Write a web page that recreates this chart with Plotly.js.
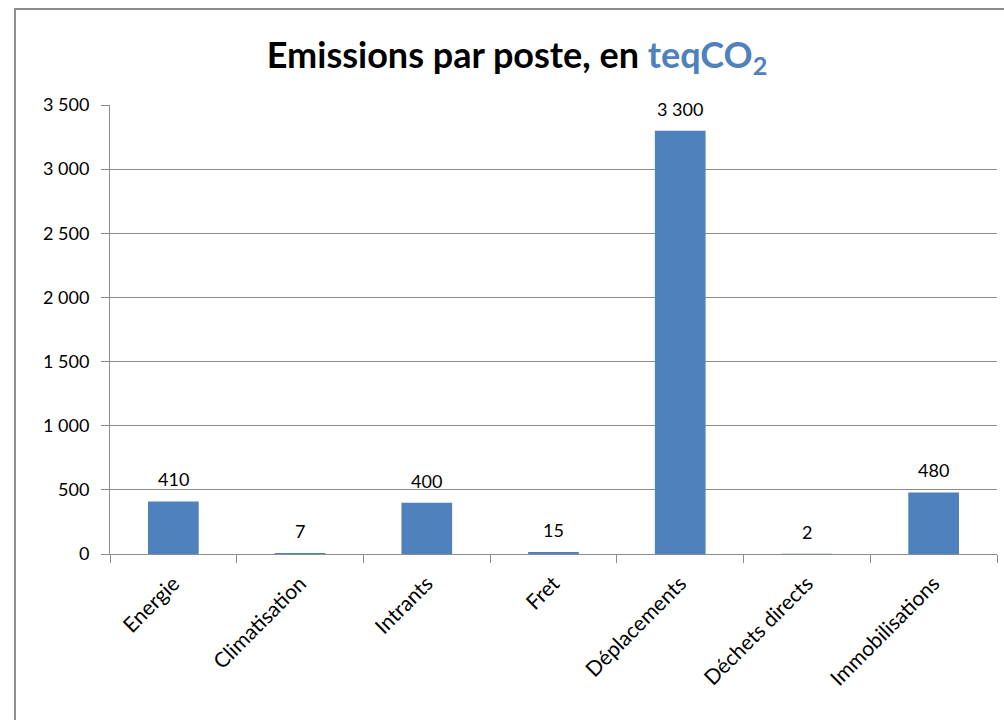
<!DOCTYPE html>
<html>
<head>
<meta charset="utf-8">
<script src="https://cdn.plot.ly/plotly-3.0.1.min.js"></script>
<style>
  html, body { margin: 0; padding: 0; background: #fff; overflow: hidden; }
  #wrap { position: relative; width: 1004px; height: 720px; }
  #chart { position: absolute; left: 0; top: 0; width: 1004px; height: 720px; }
  #frame { position: absolute; left: 14px; top: 8px; width: 1000px; height: 720px;
           border-left: 2px solid #8c8c8c; border-top: 2px solid #8c8c8c; pointer-events: none; }
</style>
</head>
<body>
<div id="wrap">
  <div id="chart"></div>
  <div id="frame"></div>
</div>
<script>
const categories = ["Energie", "Climatisation", "Intrants", "Fret", "Déplacements", "Déchets directs", "Immobilisations"];
const values = [410, 7, 400, 15, 3300, 2, 480];
const yTicks = [0, 500, 1000, 1500, 2000, 2500, 3000, 3500];

function fmt(v) {
  return String(v).replace(/\B(?=(\d{3})+(?!\d))/g, " ");
}

const FONT = "Lato, 'Open Sans', sans-serif";
const BLUE = "#4F81BD";

const trace = {
  type: "bar",
  x: categories,
  y: values,
  marker: { color: BLUE },
  hoverinfo: "skip"
};

const annotations = categories.map((c, i) => ({
  x: c, y: values[i], xref: "x", yref: "y",
  text: fmt(values[i]),
  showarrow: false,
  yanchor: "middle",
  yshift: 22,
  font: { family: FONT, size: 18, color: "#000" }
}));

const layout = {
  width: 1004, height: 720,
  margin: { l: 110, r: 7, t: 105, b: 166 },
  paper_bgcolor: "#fff", plot_bgcolor: "#fff",
  separators: ", ",
  showlegend: false,
  bargap: 0.6,
  title: {
    text: "Emissions par poste, en <span style=\"color:#4F81BD\">teqCO<sub>2</sub></span>",
    font: { family: FONT, size: 36, color: "#000", weight: "bold" },
    x: 0.515, xanchor: "center",
    y: 1 - 55 / 720, yanchor: "middle", yref: "container"
  },
  xaxis: {
    type: "category",
    tickson: "boundaries",
    ticks: "outside", ticklen: 8, tickcolor: "#8c8c8c",
    showline: true, linecolor: "#8c8c8c", linewidth: 1,
    showgrid: false,
    tickangle: -45,
    ticklabelstandoff: 8,
    tickfont: { family: FONT, size: 21, color: "#000" },
    fixedrange: true
  },
  yaxis: {
    range: [0, 3500],
    tickvals: yTicks,
    ticktext: yTicks.map(fmt),
    ticks: "outside", ticklen: 8, tickcolor: "#8c8c8c",
    showline: true, linecolor: "#8c8c8c", linewidth: 1,
    showgrid: true, gridcolor: "#8c8c8c", gridwidth: 1,
    zeroline: false,
    ticklabelstandoff: 8,
    tickfont: { family: FONT, size: 18, color: "#000" },
    fixedrange: true
  },
  annotations: annotations
};

Plotly.newPlot("chart", [trace], layout, { displayModeBar: false, staticPlot: true });
</script>
</body>
</html>
